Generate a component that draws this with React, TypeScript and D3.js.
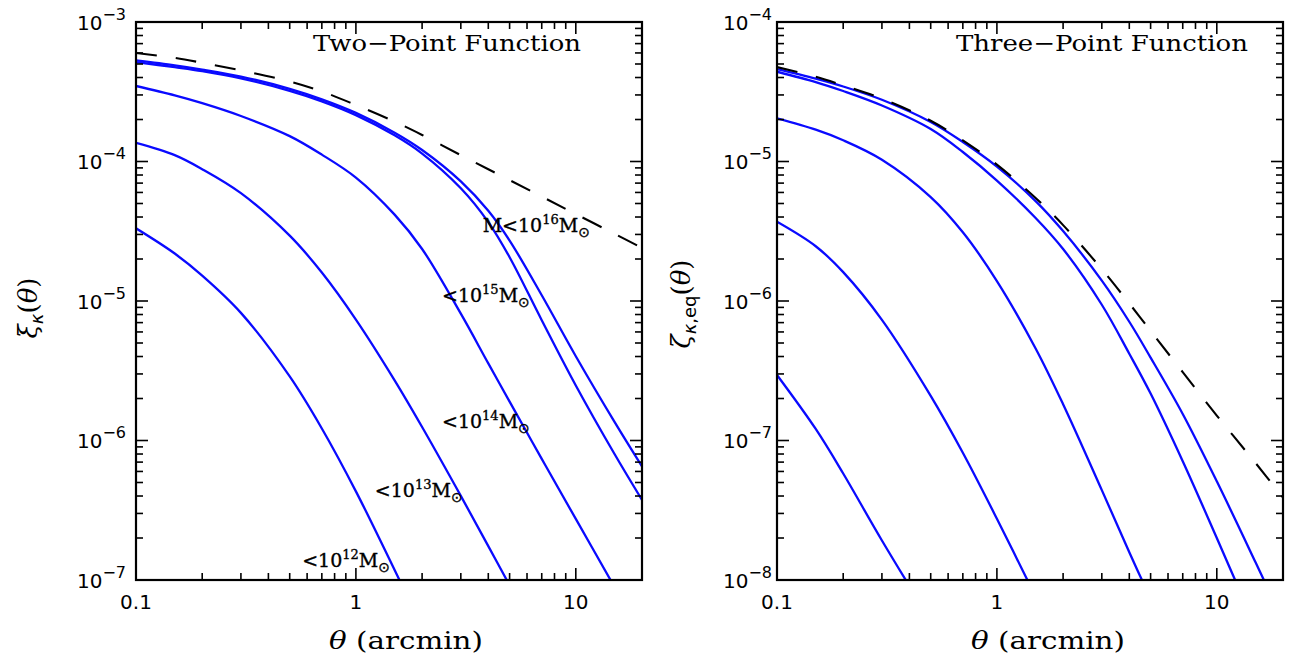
import React from "react";
import * as d3 from "d3";

// ---------- data ----------
const thetaGrid = [0.1, 0.15, 0.2, 0.3, 0.5, 0.7, 1, 1.5, 2, 3, 4, 5, 7, 10, 15, 20];

// Two-point function (left panel)
const xiTotal = [6.0e-4, 5.53e-4, 5.1e-4, 4.5e-4, 3.75e-4, 3.18e-4, 2.54e-4, 1.93e-4, 1.55e-4, 1.11e-4, 8.8e-5, 7.36e-5, 5.6e-5, 4.2e-5, 3.03e-5, 2.4e-5];
const xiM16 = [5.3e-4, 4.89e-4, 4.56e-4, 4.06e-4, 3.32e-4, 2.79e-4, 2.23e-4, 1.61e-4, 1.21e-4, 7.21e-5, 4.43e-5, 2.71e-5, 1.1e-5, 4.02e-6, 1.36e-6, 6.52e-7];
const xiM15 = [5.16e-4, 4.74e-4, 4.44e-4, 3.94e-4, 3.21e-4, 2.7e-4, 2.15e-4, 1.54e-4, 1.14e-4, 6.43e-5, 3.68e-5, 2.06e-5, 7.28e-6, 2.48e-6, 8.0e-7, 3.75e-7];
const xiM14 = [3.48e-4, 2.98e-4, 2.62e-4, 2.12e-4, 1.52e-4, 1.12e-4, 7.67e-5, 4.16e-5, 2.36e-5, 8.11e-6, 3.57e-6, 1.9e-6, 7.38e-7, 2.74e-7, 8.9e-8];
const xiM13 = [1.36e-4, 1.11e-4, 8.81e-5, 5.93e-5, 2.94e-5, 1.6e-5, 7.36e-6, 2.7e-6, 1.25e-6, 4.01e-7, 1.75e-7, 9.16e-8, 3.47e-8];
const xiM12 = [3.32e-5, 2.19e-5, 1.52e-5, 8.22e-6, 2.88e-6, 1.22e-6, 4.32e-7, 1.18e-7, 4.57e-8];

// Three-point function (right panel)
const zetaTotal = [4.75e-5, 4.05e-5, 3.51e-5, 2.82e-5, 1.96e-5, 1.42e-5, 9.5e-6, 5.48e-6, 3.5e-6, 1.69e-6, 9.6e-7, 6.1e-7, 3.09e-7, 1.51e-7, 6.9e-8, 3.9e-8];
const zetaM16 = [4.6e-5, 3.93e-5, 3.45e-5, 2.77e-5, 1.92e-5, 1.38e-5, 9.2e-6, 5.2e-6, 3.17e-6, 1.4e-6, 7.1e-7, 3.93e-7, 1.55e-7, 5.1e-8, 1.34e-8, 5.1e-9];
const zetaM15 = [4.4e-5, 3.71e-5, 3.2e-5, 2.52e-5, 1.71e-5, 1.17e-5, 7.3e-6, 3.94e-6, 2.36e-6, 9.4e-7, 4.19e-7, 2.17e-7, 7.1e-8, 2.0e-8, 4.6e-9];
const zetaM14 = [2.04e-5, 1.69e-5, 1.42e-5, 1.03e-5, 5.56e-6, 3.11e-6, 1.39e-6, 4.57e-7, 1.82e-7, 4.41e-8, 1.58e-8, 7.33e-9];
const zetaM13 = [3.7e-6, 2.47e-6, 1.61e-6, 7.33e-7, 2.09e-7, 8.17e-8, 2.75e-8, 7.59e-9];
const zetaM12 = [2.95e-7, 1.21e-7, 5.8e-8, 1.92e-8, 5.1e-9];

// mass-cut labels (left panel)
const labelPrefix = ["M<", "<", "<", "<", "<"];
const labelExp = ["16", "15", "14", "13", "12"];
const labelTheta = [11.6, 6.18, 6.18, 3.06, 1.43];
const labelValue = [3.13e-5, 9.84e-6, 1.23e-6, 3.94e-7, 1.24e-7];

const xTickLabels = ["0.1", "1", "10"];

// ---------- layout ----------
const W = 1295;
const H = 660;
const TOP = 22;
const BOTTOM = 580;

type Panel = {
  id: string;
  left: number;
  right: number;
  yDomain: [number, number];
  dashed: number[];
  solids: number[][];
  title: string;
  titleEnd: number;
  titleLen: number;
  yLabelGap: number;
  xTitleStart: number;
};

const panels: Panel[] = [
  {
    id: "two",
    left: 136,
    right: 642,
    yDomain: [1e-7, 1e-3],
    dashed: xiTotal,
    solids: [xiM16, xiM15, xiM14, xiM13, xiM12],
    title: "Two\u2212Point Function",
    titleEnd: 581,
    titleLen: 268,
    yLabelGap: 10,
    xTitleStart: 329,
  },
  {
    id: "three",
    left: 777,
    right: 1283,
    yDomain: [1e-8, 1e-4],
    dashed: zetaTotal,
    solids: [zetaM16, zetaM15, zetaM14, zetaM13, zetaM12],
    title: "Three\u2212Point Function",
    titleEnd: 1248,
    titleLen: 292,
    yLabelGap: 5,
    xTitleStart: 971,
  },
];

const BLUE = "#0a0aff";
const SANS = "'DejaVu Sans', 'Liberation Sans', sans-serif";
const SERIF = "'DejaVu Serif', serif";

function PanelView({ p }: { p: Panel }) {
  const x = d3.scaleLog().domain([0.1, 20]).range([p.left, p.right]);
  const y = d3.scaleLog().domain(p.yDomain).range([BOTTOM, TOP]);
  const line = d3
    .line<[number, number]>()
    .x((d) => x(d[0]))
    .y((d) => y(d[1]))
    .curve(d3.curveCatmullRom.alpha(0.5));
  const pts = (vals: number[]) => vals.map((v, i) => [thetaGrid[i], v] as [number, number]);

  const isMajor = (v: number) => Math.abs(Math.log10(v) - Math.round(Math.log10(v))) < 1e-6;
  const xt = x.ticks().filter((t) => t > 0.1 + 1e-9 && t < 20 - 1e-9);
  const yt = y.ticks().filter((t) => t > p.yDomain[0] * 1.0001 && t < p.yDomain[1] * 0.9999);
  const yMajors = y.ticks().filter(isMajor);
  const xMajors = [0.1, 1, 10];
  const clipId = `clip-${p.id}`;
  const MAJ = 12;
  const MIN = 7;

  return (
    <g>
      <defs>
        <clipPath id={clipId}>
          <rect x={p.left} y={TOP} width={p.right - p.left} height={BOTTOM - TOP} />
        </clipPath>
      </defs>
      <g clipPath={`url(#${clipId})`} fill="none">
        {p.solids.map((s, i) => (
          <path key={i} d={line(pts(s)) || ""} stroke={BLUE} strokeWidth={2.3} />
        ))}
        <path d={line(pts(p.dashed)) || ""} stroke="#000" strokeWidth={2.1} strokeDasharray="21 19" />
      </g>
      {/* ticks */}
      <g stroke="#000" strokeWidth={1.6}>
        {xt.map((t, i) => {
          const L = isMajor(t) ? MAJ : MIN;
          return (
            <g key={"x" + i}>
              <line x1={x(t)} x2={x(t)} y1={BOTTOM} y2={BOTTOM - L} />
              <line x1={x(t)} x2={x(t)} y1={TOP} y2={TOP + L} />
            </g>
          );
        })}
        {yt.map((t, i) => {
          const L = isMajor(t) ? MAJ : MIN;
          return (
            <g key={"y" + i}>
              <line x1={p.left} x2={p.left + L} y1={y(t)} y2={y(t)} />
              <line x1={p.right} x2={p.right - L} y1={y(t)} y2={y(t)} />
            </g>
          );
        })}
      </g>
      <rect x={p.left} y={TOP} width={p.right - p.left} height={BOTTOM - TOP} fill="none" stroke="#000" strokeWidth={2.2} />
      {/* tick labels */}
      <g fontFamily={SANS} fill="#000">
        {xMajors.map((t, i) => (
          <text key={"xl" + i} x={x(t)} y={609} fontSize={20} textAnchor="middle">
            {xTickLabels[i]}
          </text>
        ))}
        {yMajors.map((t, i) => (
          <text key={"yl" + i} x={p.left - p.yLabelGap} y={y(t) + 7.5} fontSize={20} textAnchor="end">
            10
            <tspan dy={-10} fontSize={16}>
              {"\u2212" + Math.round(-Math.log10(t))}
            </tspan>
          </text>
        ))}
      </g>
      {/* title */}
      <text
        x={p.titleEnd - p.titleLen}
        y={51}
        fontFamily={SERIF}
        fontSize={23}
        textLength={p.titleLen}
        lengthAdjust="spacingAndGlyphs"
      >
        {p.title}
      </text>
      {/* x axis title */}
      <text x={p.xTitleStart} y={649} fontFamily={SERIF} fontSize={25} textLength={154} lengthAdjust="spacingAndGlyphs">
        <tspan fontStyle="italic">θ</tspan>
        {"  (arcmin)"}
      </text>
    </g>
  );
}

export default function App() {
  const xL = d3.scaleLog().domain([0.1, 20]).range([panels[0].left, panels[0].right]);
  const yL = d3.scaleLog().domain(panels[0].yDomain).range([BOTTOM, TOP]);
  return (
    <svg
      width={W}
      height={H}
      viewBox={`0 0 ${W} ${H}`}
      style={{ position: "fixed", left: 0, top: 0, background: "#fff" }}
    >
      <rect width={W} height={H} fill="#fff" />
      {panels.map((p) => (
        <PanelView key={p.id} p={p} />
      ))}
      {/* mass labels */}
      <g fontFamily={SERIF} fill="#000" stroke="#000" strokeWidth={0.35}>
        {labelExp.map((e, i) => (
          <text key={i} x={xL(labelTheta[i])} y={yL(labelValue[i])} fontSize={19} textAnchor="end">
            {labelPrefix[i] + "10"}
            <tspan dy={-8} fontSize={13}>
              {e}
            </tspan>
            <tspan dy={8} fontSize={19}>
              M
            </tspan>
            <tspan dy={5} fontSize={14} fontFamily={SANS}>
              ⊙
            </tspan>
          </text>
        ))}
      </g>
      {/* y axis titles */}
      <text transform="translate(37,308) rotate(-90)" textAnchor="middle" fontFamily={SERIF} fontSize={26}>
        <tspan fontStyle="italic">ξ</tspan>
        <tspan dy={6} fontSize={18} fontStyle="italic" fontFamily={SANS}>
          κ
        </tspan>
        <tspan dy={-6}>(</tspan>
        <tspan fontStyle="italic">θ</tspan>
        <tspan>)</tspan>
      </text>
      <text transform="translate(690,304) rotate(-90)" textAnchor="middle" fontFamily={SERIF} fontSize={26}>
        <tspan fontStyle="italic">ζ</tspan>
        <tspan dy={6} fontSize={18} fontFamily={SANS}>
          <tspan fontStyle="italic">κ</tspan>,eq
        </tspan>
        <tspan dy={-6}>(</tspan>
        <tspan fontStyle="italic">θ</tspan>
        <tspan>)</tspan>
      </text>
    </svg>
  );
}
